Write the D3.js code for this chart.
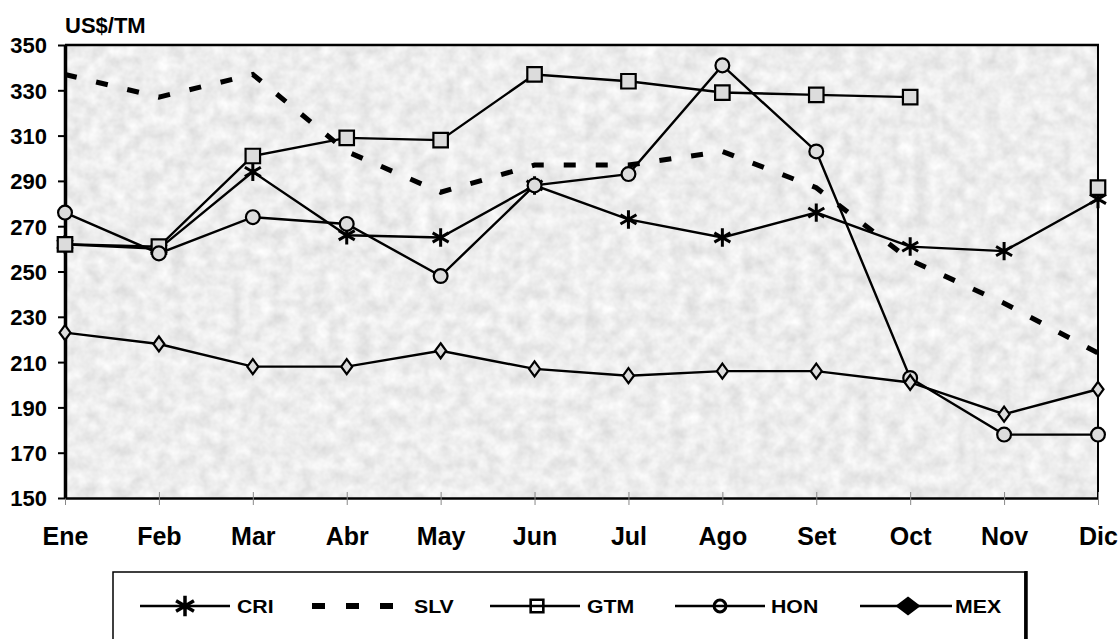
<!DOCTYPE html>
<html>
<head>
<meta charset="utf-8">
<script src="https://cdn.jsdelivr.net/npm/d3@7"></script>
<style>
  html, body { margin: 0; padding: 0; background: #fff; }
  svg { display: block; }
  text { font-family: "Liberation Sans", Arial, sans-serif; font-weight: bold; fill: #000; }
</style>
</head>
<body>
<svg id="chart" width="1120" height="639"></svg>
<script>
const months = ["Ene","Feb","Mar","Abr","May","Jun","Jul","Ago","Set","Oct","Nov","Dic"];
const yTicks = [150,170,190,210,230,250,270,290,310,330,350];
const unitLabel = "US$/TM";

const cri = [262, 260, 294, 266, 265, 288, 273, 265, 276, 261, 259, 282];
const slv = [337, 327, 337, 303, 285, 297, 297, 303, 287, 255, 236, 214];
const gtm = [262, 261, 301, 309, 308, 337, 334, 329, 328, 327, null, 287];
const hon = [276, 258, 274, 271, 248, 288, 293, 341, 303, 203, 178, 178];
const mex = [223, 218, 208, 208, 215, 207, 204, 206, 206, 201, 187, 198];

const seriesNames = ["CRI","SLV","GTM","HON","MEX"];
const seriesValues = [cri, slv, gtm, hon, mex];
const seriesSymbols = ["asterisk", null, "square", "circle", "diamond"];
const seriesDashed = [false, true, false, false, false];

const svg = d3.select("#chart");
const L = 65, R = 1098, T = 45, B = 498;

const x = d3.scalePoint().domain(months).range([L, R]);
const y = d3.scaleLinear().domain([150, 350]).range([B, T]);

// texture
const defs = svg.append("defs");
const f = defs.append("filter").attr("id","tex").attr("x",0).attr("y",0).attr("width","100%").attr("height","100%");
f.append("feTurbulence").attr("type","fractalNoise").attr("baseFrequency","0.07").attr("numOctaves",3).attr("seed",11).attr("result","n");
f.append("feColorMatrix").attr("in","n").attr("type","matrix")
 .attr("values","0.34 0 0 0 0.68  0.34 0 0 0 0.68  0.34 0 0 0 0.68  0 0 0 0 1");

svg.append("rect").attr("x",L).attr("y",T).attr("width",R-L).attr("height",B-T)
  .attr("fill","#dcdcdc").attr("filter","url(#tex)");

// frame
svg.append("line").attr("x1",L).attr("x2",R+1).attr("y1",T).attr("y2",T).attr("stroke","#000").attr("stroke-width",2.5);
svg.append("line").attr("x1",R).attr("x2",R).attr("y1",T).attr("y2",B).attr("stroke","#000").attr("stroke-width",2);

// x axis
const xAxis = svg.append("g").attr("transform",`translate(0,${B})`)
  .call(d3.axisBottom(x).tickSize(7).tickPadding(22).tickSizeOuter(0));
xAxis.select(".domain").attr("stroke","#000").attr("stroke-width",2.5);
xAxis.selectAll(".tick line").attr("stroke","#888").attr("stroke-width",1).attr("y1",-6);
xAxis.selectAll(".tick text").style("font-size","25px").style("font-family","'Liberation Sans', Arial, sans-serif").style("font-weight","bold").attr("fill","#000");

// y axis
const yAxis = svg.append("g").attr("transform",`translate(${L},0)`)
  .call(d3.axisLeft(y).tickValues(yTicks).tickSize(7).tickPadding(11).tickSizeOuter(0));
yAxis.select(".domain").attr("stroke","#000").attr("stroke-width",3.5);
yAxis.selectAll(".tick line").attr("stroke","#000").attr("stroke-width",2);
yAxis.selectAll(".tick text").style("font-size","22px").style("font-family","'Liberation Sans', Arial, sans-serif").style("font-weight","bold").attr("fill","#000").attr("dy","0.36em");

svg.append("text").attr("x",65).attr("y",33).style("font-size","22px").text(unitLabel);

function diamondPath(w, h) {
  return `M0,${-h/2}L${w/2},0L0,${h/2}L${-w/2},0Z`;
}
function markerPath(sym, scale) {
  if (sym === "diamond") return diamondPath(11*scale, 15*scale);
  if (sym === "asterisk") return d3.symbol().type(d3.symbolAsterisk).size(240*scale*scale)();
  if (sym === "square") return d3.symbol().type(d3.symbolSquare).size(210*scale*scale)();
  return d3.symbol().type(d3.symbolCircle).size(150*scale*scale)();
}

const plot = svg.append("g");
seriesValues.forEach((vals, si) => {
  plot.append("path")
    .datum(vals)
    .attr("d", d3.line().defined(d => d != null).x((d,i) => x(months[i])).y(d => y(d)))
    .attr("fill","none")
    .attr("stroke","#000")
    .attr("stroke-width", seriesDashed[si] ? 5 : 2.4)
    .attr("stroke-dasharray", seriesDashed[si] ? "12,20" : null);
  const sym = seriesSymbols[si];
  if (sym) {
    plot.selectAll(null).data(vals.map((v,i) => ({v, i})).filter(d => d.v != null))
      .enter().append("path")
      .attr("d", markerPath(sym, 1))
      .attr("transform", d => `translate(${x(months[d.i])},${y(d.v)})`)
      .attr("fill", sym === "asterisk" ? "none" : "#dcdcdc")
      .attr("stroke", "#000")
      .attr("stroke-width", sym === "asterisk" ? 3 : 2.2);
  }
});

// legend
const lg = svg.append("g");
lg.append("rect").attr("x",113).attr("y",572).attr("width",912).attr("height",100)
  .attr("fill","#fff").attr("stroke","#000").attr("stroke-width",1.5);
lg.append("line").attr("x1",1026).attr("x2",1026).attr("y1",571).attr("y2",639).attr("stroke","#000").attr("stroke-width",3.5);
const ly = 606;
const legendPos = [
  {x1:140, x2:230, mx:185, tx:237},
  {x1:312, x2:393, mx:null, tx:414},
  {x1:490, x2:580, mx:537, tx:587},
  {x1:675, x2:765, mx:720, tx:771},
  {x1:860, x2:952, mx:908, tx:955}
];
seriesNames.forEach((name, si) => {
  const p = legendPos[si];
  lg.append("line").attr("x1",p.x1).attr("x2",p.x2).attr("y1",ly).attr("y2",ly)
    .attr("stroke","#000").attr("stroke-width", seriesDashed[si] ? 6 : 2.5)
    .attr("stroke-dasharray", seriesDashed[si] ? "13,21" : null);
  const sym = seriesSymbols[si];
  if (sym) {
    let d, fill = "none", sw = 2.5;
    if (sym === "asterisk") { d = d3.symbol().type(d3.symbolAsterisk).size(300)(); sw = 3.5; }
    if (sym === "square") { d = d3.symbol().type(d3.symbolSquare).size(160)(); sw = 2.6; }
    if (sym === "circle") { d = d3.symbol().type(d3.symbolCircle).size(110)(); sw = 3; }
    if (sym === "diamond") { d = diamondPath(21, 16); fill = "#000"; }
    lg.append("path").attr("d", d)
      .attr("transform",`translate(${p.mx},${ly})`)
      .attr("fill", fill)
      .attr("stroke","#000").attr("stroke-width", sw);
  }
  lg.append("text").attr("transform",`translate(${p.tx},${ly+7}) scale(1.12,1)`).style("font-size","19px")
    .text(name);
});
</script>
</body>
</html>
